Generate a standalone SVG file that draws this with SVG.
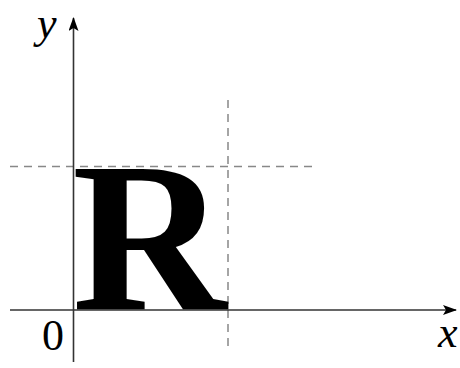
<svg xmlns="http://www.w3.org/2000/svg" width="460" height="368" viewBox="0 0 460 368">
<style>
.axis{stroke:#333;stroke-width:1.6;fill:none}
.dash{stroke:#888;stroke-width:1.5;stroke-dasharray:8,6;fill:none}
.lbl{font-family:"Liberation Serif",serif;font-size:44px;fill:#000}
.it{font-style:italic}
</style>
<defs>
<marker id="ah" viewBox="0 0 14 10" refX="13" refY="5" markerWidth="14" markerHeight="10" markerUnits="userSpaceOnUse" orient="auto">
<path d="M0,0 L14,5 L0,10 L3,5 Z" fill="#000"/>
</marker>
</defs>
<g id="guides">
<line class="dash" x1="10" y1="166.5" x2="316" y2="166.5"/>
<line class="dash" x1="228" y1="100" x2="228" y2="350"/>
</g>
<g id="letter">
<text x="72" y="308.5" style="font-family:'Liberation Serif',serif;font-weight:bold;font-size:214px" fill="#000">R</text>
</g>
<g id="connectors">
<line class="axis" x1="10" y1="310" x2="456" y2="310" marker-end="url(#ah)"/>
<line class="axis" x1="73.5" y1="362" x2="73.5" y2="18" marker-end="url(#ah)"/>
</g>
<g id="labels">
<text class="lbl it" x="37" y="38">y</text>
<text class="lbl it" x="438" y="347">x</text>
<text class="lbl" x="42" y="350">0</text>
</g>
</svg>
